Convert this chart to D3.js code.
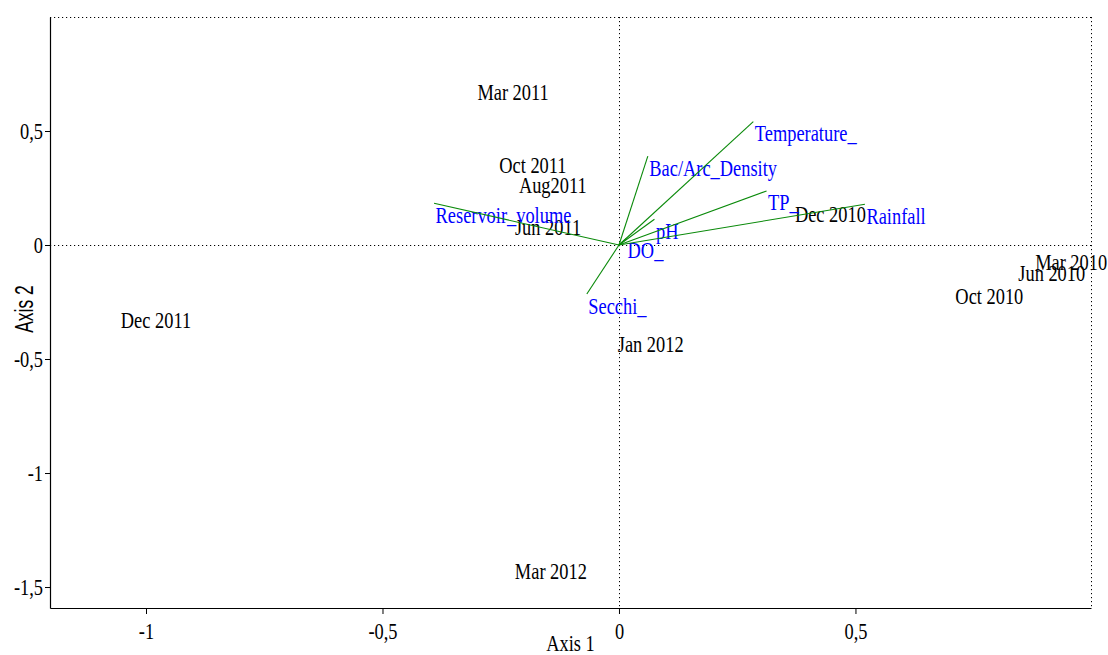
<!DOCTYPE html>
<html>
<head>
<meta charset="utf-8">
<script src="https://cdn.jsdelivr.net/npm/d3@7"></script>
<style>
body { margin: 0; background: #fff; }
</style>
</head>
<body>
<div></div>
<script>
// sampling dates (site scores)
var sampleNames = ["Mar 2010", "Jun 2010", "Oct 2010", "Dec 2010", "Mar 2011", "Jun 2011",
                   "Aug2011", "Oct 2011", "Dec 2011", "Jan 2012", "Mar 2012"];
var sampleX = [0.956, 0.915, 0.783, 0.447, -0.224, -0.150, -0.140, -0.182, -0.979, 0.067, -0.144];
var sampleY = [-0.077, -0.124, -0.228, 0.135, 0.667, 0.077, 0.261, 0.347, -0.329, -0.438, -1.434];

// environmental variables (arrow ends)
var varNames = ["Temperature_", "Bac/Arc_Density", "TP_", "Rainfall", "pH", "DO_", "Secchi_", "Reservoir_volume"];
var varX = [0.284, 0.061, 0.312, 0.520, 0.075, 0.015, -0.068, -0.391];
var varY = [0.541, 0.390, 0.237, 0.179, 0.113, 0.028, -0.215, 0.183];

var xTicks = [-1, -0.5, 0, 0.5],
    yTicks = [-1.5, -1, -0.5, 0, 0.5];

var width = 1108,
    height = 655,
    margin = {top: 17, right: 17, bottom: 47, left: 50},
    iw = width - margin.left - margin.right,
    ih = height - margin.top - margin.bottom;

var serif = "'Liberation Serif', 'Times New Roman', serif",
    sq = 0.8; // fonts in the original look horizontally condensed

var svg = d3.select("div")
    .append("svg")
    .attr("width", width)
    .attr("height", height),
    g = svg.append("g")
    .attr("transform", "translate(" + margin.left + "," + margin.top + ")");

var x = d3.scaleLinear().domain([-1.203, 0.998]).range([0, iw]),
    y = d3.scaleLinear().domain([-1.592, 1.0]).range([ih, 0]);

var comma = function (d) { return String(d).replace(".", ","); };

// dotted frame (top, right) and zero lines
var dots = g.append("g")
    .attr("stroke", "#000")
    .attr("stroke-width", 1)
    .attr("stroke-dasharray", "1.2,2.8");
dots.append("line").attr("x1", 0).attr("x2", iw).attr("y1", 0.5).attr("y2", 0.5);
dots.append("line").attr("x1", iw + 0.5).attr("x2", iw + 0.5).attr("y1", 0).attr("y2", ih);
dots.append("line").attr("x1", 0).attr("x2", iw).attr("y1", Math.round(y(0)) + 0.5).attr("y2", Math.round(y(0)) + 0.5);
dots.append("line").attr("x1", Math.round(x(0)) + 0.5).attr("x2", Math.round(x(0)) + 0.5).attr("y1", 0).attr("y2", ih);

// axes
var xAxisG = g.append("g")
    .attr("transform", "translate(0," + ih + ")")
    .call(d3.axisBottom(x).tickValues(xTicks).tickFormat(comma).tickSize(6).tickSizeOuter(0).tickPadding(9));
var yAxisG = g.append("g")
    .call(d3.axisLeft(y).tickValues(yTicks).tickFormat(comma).tickSize(5).tickSizeOuter(0).tickPadding(2));

[xAxisG, yAxisG].forEach(function (a) {
    a.attr("font-family", serif).attr("font-size", 23);
    a.select(".domain").attr("stroke-width", 1.2);
    a.selectAll(".tick line").attr("stroke-width", 1);
});
yAxisG.selectAll(".tick text").each(function () {
    var t = d3.select(this), xx = +t.attr("x");
    t.attr("x", 0).attr("transform", "translate(" + xx + ",0) scale(" + sq + ",1)");
});
xAxisG.selectAll(".tick text").attr("transform", "scale(" + sq + ",1)");

// axis titles
g.append("text")
    .attr("transform", "translate(" + (iw / 2) + "," + (height - margin.top - 4) + ") scale(" + sq + ",1)")
    .attr("text-anchor", "middle")
    .attr("font-family", serif)
    .attr("font-size", 23)
    .text("Axis 1");
svg.append("text")
    .attr("transform", "translate(33," + (margin.top + 292) + ") rotate(-90) scale(0.7,1)")
    .attr("text-anchor", "middle")
    .attr("font-family", "'Liberation Sans', Arial, sans-serif")
    .attr("font-size", 25)
    .text("Axis 2");

// sample labels
g.append("g")
    .attr("font-family", serif)
    .attr("font-size", 23)
    .attr("fill", "#000")
    .attr("text-anchor", "middle")
    .selectAll("text")
    .data(sampleNames)
    .enter().append("text")
    .attr("transform", function (d, i) {
        return "translate(" + x(sampleX[i]) + "," + (y(sampleY[i]) + 7.5) + ") scale(" + sq + ",1)";
    })
    .text(function (d) { return d; });

// variable labels, left-top at the arrow end
g.append("g")
    .attr("font-family", serif)
    .attr("font-size", 23)
    .attr("fill", "#0000ff")
    .selectAll("text")
    .data(varNames)
    .enter().append("text")
    .attr("transform", function (d, i) {
        return "translate(" + (x(varX[i]) + 1.5) + "," + (y(varY[i]) + 19.5) + ") scale(" + sq + ",1)";
    })
    .text(function (d) { return d; });

// arrows from the origin
g.append("g")
    .attr("stroke", "#0a8a0a")
    .attr("stroke-width", 1.1)
    .selectAll("line")
    .data(varNames)
    .enter().append("line")
    .attr("x1", x(0))
    .attr("y1", y(0))
    .attr("x2", function (d, i) { return x(varX[i]); })
    .attr("y2", function (d, i) { return y(varY[i]); });
</script>
</body>
</html>
